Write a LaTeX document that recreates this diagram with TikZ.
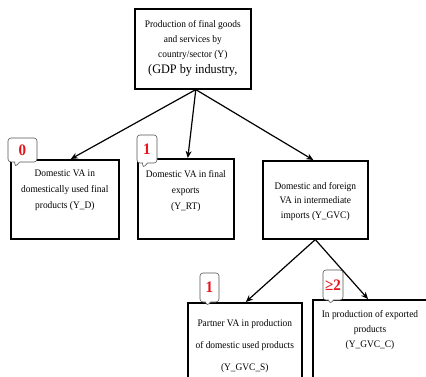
\documentclass[tikz,border=0pt]{standalone}
\usepackage{fontspec}
\setmainfont{Liberation Serif}
\newfontfamily\narrowserif[FakeStretch=0.94]{Liberation Serif}
\usepackage{xcolor}
\usetikzlibrary{positioning,arrows.meta,shapes.callouts}
\definecolor{ink}{HTML}{000000}
\definecolor{badge}{HTML}{E8141B}
\definecolor{rim}{HTML}{555555}

\tikzset{
  box/.style={draw=ink, line width=1.6pt, fill=white, anchor=north west, inner sep=0pt},
  boxtext/.style={align=center, inner sep=0pt, text=ink,
    font=\narrowserif\fontsize{10}{15}\selectfont},
  flow/.style={draw=ink, line width=1.2pt, -{Stealth[length=7pt,width=6pt]}},
  bubble/.style={rectangle callout, rounded corners=3pt, draw=rim, line width=0.6pt,
    fill=white, text=badge, inner sep=0pt, callout pointer width=5pt,
    font=\narrowserif\bfseries\fontsize{16}{16}\selectfont}
}

\begin{document}
\begin{tikzpicture}[x=1pt,y=-1pt]
  \useasboundingbox[fill=white] (0,0) rectangle (426,377);

  % boxes
  \node[box, minimum width=116pt, minimum height=80pt] (ytot) at (134,8) {};
  \node[box, minimum width=108pt, minimum height=79pt] (ydom) at (10,159) {};
  \node[box, minimum width=96pt, minimum height=80pt] (yrt) at (137,158) {};
  \node[box, minimum width=105pt, minimum height=78pt] (ygvc) at (262,160) {};
  \node[box, minimum width=114pt, minimum height=76pt] (ygvcs) at (187,302) {};
  \node[box, minimum width=120pt, minimum height=79pt] (ygvcc) at (312,299) {};

  % texts
  \node[boxtext, below=12pt of ytot.north] (ytot-txt)
    {Production of final goods\\and services by\\country/sector (Y)\\[1pt]
     {\fontsize{13}{15}\selectfont (GDP by industry,}};
  \node[boxtext, below=11pt of ydom.north, font=\narrowserif\fontsize{10}{16}\selectfont] (ydom-txt)
    {Domestic VA in\\domestically used final\\products (Y\_D)};
  \node[boxtext, below=12pt of yrt.north, font=\narrowserif\fontsize{10}{16}\selectfont] (yrt-txt)
    {Domestic VA in final\\exports\\(Y\_RT)};
  \node[boxtext, below=22pt of ygvc.north, font=\narrowserif\fontsize{10}{14.5}\selectfont] (ygvc-txt)
    {Domestic and foreign\\VA in intermediate\\imports (Y\_GVC)};
  \node[boxtext, below=17pt of ygvcs.north, font=\narrowserif\fontsize{10}{22}\selectfont] (ygvcs-txt)
    {Partner VA in production\\of domestic used products\\(Y\_GVC\_S)};
  \node[boxtext, anchor=north] (ygvcc-txt) at ([xshift=58pt,yshift=-11pt]ygvcc.north west)
    {In production of exported\\products\\(Y\_GVC\_C)};

  % connectors
  \draw[flow] ([xshift=3pt]ytot.south) -- ([xshift=6pt]ydom.north);
  \draw[flow] ([xshift=3pt]ytot.south) -- ([xshift=2pt]yrt.north);
  \draw[flow] ([xshift=3pt]ytot.south) -- ([xshift=-2pt]ygvc.north);
  \draw[flow] (ygvc.south) -- ([xshift=1pt]ygvcs.north);
  \draw[flow] (ygvc.south) -- ([xshift=56pt]ygvcc.north west);

  % number badges
  \node[bubble, minimum width=29pt, minimum height=24pt,
        callout absolute pointer={(15,167)}] (n-dom) at (22.5,150) {0};
  \node[bubble, minimum width=20pt, minimum height=28pt,
        callout absolute pointer={(143,168)}] (n-rt) at (147,149) {1};
  \node[bubble, minimum width=19pt, minimum height=29pt,
        callout absolute pointer={(207,306)}] (n-gvcs) at (209.5,287.5) {1};
  \node[bubble, minimum width=20pt, minimum height=30pt,
        callout absolute pointer={(330,304)}] (n-gvcc) at (333,285) {≥2};
\end{tikzpicture}
\end{document}
